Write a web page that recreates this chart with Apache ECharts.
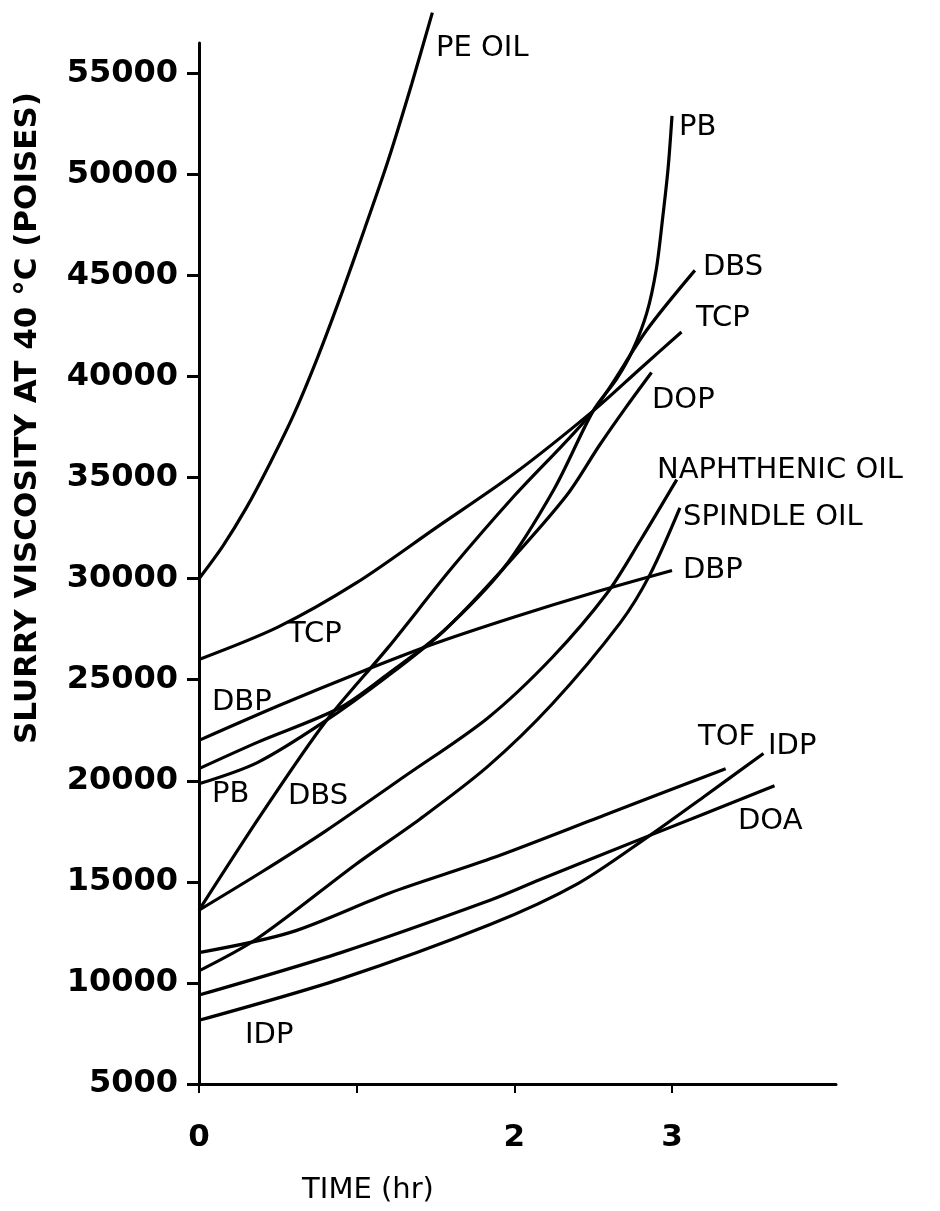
<!DOCTYPE html>
<html>
<head>
<meta charset="utf-8">
<script src="https://cdn.jsdelivr.net/npm/echarts@6/dist/echarts.min.js"></script>
<style>
html,body{margin:0;padding:0;background:#ffffff;}
#chart{width:940px;height:1211px;}
</style>
</head>
<body>
<div id="chart"></div>
<script>
// ---- data: [time (hr), slurry viscosity (poises)] ----
const peOil = [[0,30000],[0.15,31600],[0.3,33500],[0.45,35700],[0.6,38100],[0.75,40900],[0.9,44000],[1.05,47300],[1.2,50700],[1.35,54500],[1.48,58000]];
const pb = [[0,19850],[0.37,20900],[0.79,22900],[1.2,25200],[1.55,27400],[1.93,30500],[2.25,34400],[2.5,38300],[2.65,39900],[2.75,41300],[2.84,43150],[2.9,45300],[2.94,47800],[2.975,50300],[3.0,52900]];
const dbs = [[0,13600],[0.4,18400],[0.8,22900],[1.2,26600],[1.6,30500],[2.0,34100],[2.5,38300],[2.84,42300],[3.145,45250]];
const tcp = [[0,26000],[0.5,27600],[1.0,29800],[1.5,32500],[2.0,35200],[2.5,38300],[2.8,40400],[3.06,42200]];
const dop = [[0,20600],[0.37,21900],[0.89,23600],[1.2,25300],[1.55,27400],[1.93,30500],[2.33,34100],[2.54,36600],[2.71,38500],[2.87,40200]];
const naphthenicOil = [[0,13600],[0.4,15500],[0.8,17500],[1.3,20200],[1.83,23100],[2.24,26100],[2.59,29300],[2.8,31900],[3.03,34900]];
const spindleOil = [[0,10600],[0.37,12200],[1.0,15900],[1.4,18100],[1.83,20700],[2.24,23800],[2.67,27800],[2.86,30200],[3.05,33500]];
const dbp = [[0,22000],[0.5,23700],[1.0,25300],[1.5,26800],[2.0,28100],[2.5,29300],[3.0,30400]];
const tof = [[0,11500],[0.58,12500],[1.21,14450],[1.85,16150],[2.57,18300],[3.34,20600]];
const idp = [[0,8150],[0.9,10200],[1.85,12900],[2.4,14900],[2.86,17300],[3.2,19200],[3.58,21350]];
const doa = [[0,9400],[0.9,11500],[1.85,14100],[2.16,15100],[2.86,17300],[3.65,19750]];

const curveNames = ['PE OIL','PB','DBS','TCP','DOP','NAPHTHENIC OIL','SPINDLE OIL','DBP','TOF','IDP','DOA'];
const curveData = [peOil, pb, dbs, tcp, dop, naphthenicOil, spindleOil, dbp, tof, idp, doa];

const yTickValues = [5000,10000,15000,20000,25000,30000,35000,40000,45000,50000,55000];
const xTickValues = [0,1,2,3];
const xLabelValues = [0,2,3];

const yAxisTitle = 'SLURRY VISCOSITY AT 40 °C (POISES)';
const xAxisTitle = 'TIME (hr)';

// curve annotations (text, left x, middle y) as in the figure
const annotations = [
  ['PE OIL', 436, 49],
  ['PB', 679, 128],
  ['DBS', 703, 268],
  ['TCP', 696, 319],
  ['DOP', 652, 401],
  ['NAPHTHENIC OIL', 657, 471],
  ['SPINDLE OIL', 683, 518],
  ['DBP', 683, 571],
  ['TCP', 288, 635],
  ['DBP', 212, 703],
  ['PB', 212, 795],
  ['DBS', 288, 797],
  ['TOF', 698, 738],
  ['IDP', 768, 747],
  ['DOA', 738, 822],
  ['IDP', 245, 1036]
];

const chart = echarts.init(document.getElementById('chart'), null, {renderer:'canvas'});

const labelFont = '"DejaVu Sans", sans-serif';

const series = curveData.map((d, i) => ({
  name: curveNames[i],
  type: 'line',
  data: d,
  smooth: 0.3,
  showSymbol: false,
  symbol: 'none',
  clip: false,
  lineStyle: {color: '#000', width: 3.2},
  emphasis: {disabled: true},
  animation: false
}));

const graphics = annotations.map(a => ({
  type: 'text',
  left: a[1],
  top: a[2] - 15,
  style: {text: a[0], fill: '#000', font: 'normal 29px ' + labelFont}
}));
graphics.push({
  type: 'text',
  x: 28, y: 418,
  rotation: Math.PI / 2,
  style: {text: yAxisTitle, fill: '#000', font: 'bold 31px ' + labelFont, align: 'center', verticalAlign: 'middle'}
});
graphics.push({
  type: 'text',
  x: 368, y: 1190,
  style: {text: xAxisTitle, fill: '#000', font: 'normal 29px ' + labelFont, align: 'center', verticalAlign: 'middle'}
});

chart.setOption({
  backgroundColor: '#ffffff',
  animation: false,
  grid: {left: 199, right: 104, top: 43, bottom: 127, containLabel: false},
  xAxis: {
    type: 'value',
    min: 0, max: 4.04,
    axisLine: {show: true, onZero: false, lineStyle: {color: '#000', width: 3}},
    axisTick: {show: true, inside: false, length: 9, customValues: xTickValues, lineStyle: {color: '#000', width: 2}},
    axisLabel: {show: true, customValues: xLabelValues, margin: 38, color: '#000',
      fontFamily: labelFont, fontWeight: 'bold', fontSize: 31,
      formatter: v => String(v)},
    splitLine: {show: false}
  },
  yAxis: {
    type: 'value',
    min: 5000, max: 56500,
    axisLine: {show: true, onZero: false, lineStyle: {color: '#000', width: 3}},
    axisTick: {show: true, inside: false, length: 12, customValues: yTickValues, lineStyle: {color: '#000', width: 3}},
    axisLabel: {show: true, customValues: yTickValues, margin: 21, color: '#000',
      fontFamily: labelFont, fontWeight: 'bold', fontSize: 32,
      formatter: v => String(v)},
    splitLine: {show: false}
  },
  series: series,
  graphic: graphics
});
</script>
</body>
</html>
